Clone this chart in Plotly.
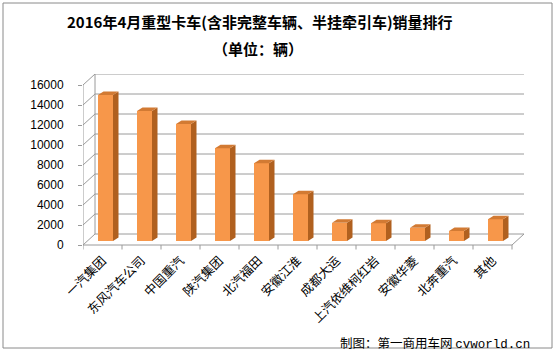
import plotly.graph_objects as go

categories = ["一汽集团", "东风汽车公司", "中国重汽", "陕汽集团", "北汽福田", "安徽江淮",
              "成都大运", "上汽依维柯红岩", "安徽华菱", "北奔重汽", "其他"]
sales = [14600, 13000, 11700, 9270, 7770, 4670, 1830, 1770, 1330, 1000, 2170]
y_ticks = [0, 2000, 4000, 6000, 8000, 10000, 12000, 14000, 16000]

W, H = 559, 357
L, T = 83, 74
CAT_PX = 39.0
DEPTH_X = 12 / CAT_PX   # back-wall offset in category units
DEPTH_Y = 1100          # back-wall offset in value units
x_range = [-0.5, 10.5 + DEPTH_X]
y_range = [-500, 17100]
plot_w = (x_range[1] - x_range[0]) * CAT_PX
plot_h = (y_range[1] - y_range[0]) / 100.0
R = W - L - plot_w
B = H - T - plot_h

GRID = "#9a9a9a"
FRONT = "#F7974A"
SIDE = "#B0601F"
TOP = "#D27A33"

BAR_W = 15 / CAT_PX
BAR_OFF = 3 / CAT_PX
BAR_BASE = 400
SX = 5.5 / CAT_PX
SY = 350

def px_to_paper(px, py):
    return (px - L) / plot_w, (H - B - py) / plot_h

shapes = []
# back wall gridlines + left wall slants
for v in y_ticks:
    shapes.append(dict(type="line", xref="x", yref="y", layer="below",
                       x0=-0.5 + DEPTH_X, y0=v + DEPTH_Y, x1=10.5 + DEPTH_X, y1=v + DEPTH_Y,
                       line=dict(color=GRID, width=1)))
    shapes.append(dict(type="line", xref="x", yref="y", layer="below",
                       x0=-0.5, y0=v, x1=-0.5 + DEPTH_X, y1=v + DEPTH_Y,
                       line=dict(color=GRID, width=1)))
# back wall left edge
shapes.append(dict(type="line", xref="x", yref="y", layer="below",
                   x0=-0.5 + DEPTH_X, y0=DEPTH_Y, x1=-0.5 + DEPTH_X, y1=y_ticks[-1] + DEPTH_Y,
                   line=dict(color=GRID, width=1)))
# front vertical axis line
shapes.append(dict(type="line", xref="x", yref="y", layer="below",
                   x0=-0.5, y0=0, x1=-0.5, y1=y_ticks[-1],
                   line=dict(color=GRID, width=1)))
# floor front and right edges
shapes.append(dict(type="line", xref="x", yref="y", layer="below",
                   x0=-0.5, y0=0, x1=10.5, y1=0, line=dict(color=GRID, width=1)))
shapes.append(dict(type="line", xref="x", yref="y", layer="below",
                   x0=10.5, y0=0, x1=10.5 + DEPTH_X, y1=DEPTH_Y, line=dict(color=GRID, width=1)))
# category boundary ticks
for i in range(len(categories) + 1):
    xb = i - 0.5
    shapes.append(dict(type="line", xref="x", yref="y", layer="below",
                       x0=xb, y0=0, x1=xb, y1=-450, line=dict(color=GRID, width=1)))

# 3D bar side and top faces
for i, v in enumerate(sales):
    xl = i + BAR_OFF - BAR_W / 2
    xr = i + BAR_OFF + BAR_W / 2
    yb = BAR_BASE
    yt = BAR_BASE + v
    shapes.append(dict(type="path", xref="x", yref="y", layer="above",
                       path=f"M{xr},{yb} L{xr+SX},{yb+SY} L{xr+SX},{yt+SY} L{xr},{yt} Z",
                       fillcolor=SIDE, line=dict(width=0)))
    shapes.append(dict(type="path", xref="x", yref="y", layer="above",
                       path=f"M{xl},{yt} L{xl+SX},{yt+SY} L{xr+SX},{yt+SY} L{xr},{yt} Z",
                       fillcolor=TOP, line=dict(width=0)))

# chart border
bx0, by0 = px_to_paper(3, 348)
bx1, by1 = px_to_paper(552, 3)
shapes.append(dict(type="rect", xref="paper", yref="paper", layer="below",
                   x0=bx0, y0=by0, x1=bx1, y1=by1,
                   line=dict(color="#8a8a8a", width=1), fillcolor="rgba(0,0,0,0)"))

fig = go.Figure()
fig.add_trace(go.Bar(
    x=[i + BAR_OFF for i in range(len(categories))],
    y=sales,
    base=[BAR_BASE] * len(sales),
    width=BAR_W,
    marker=dict(color=FRONT, line=dict(width=0)),
    hoverinfo="skip",
))

annotations = []
tx, ty = px_to_paper(260, 21)
annotations.append(dict(xref="paper", yref="paper", x=tx, y=ty, xanchor="center", yanchor="middle",
                        text="<b>2016年4月重型卡车(含非完整车辆、半挂牵引车)销量排行</b>",
                        showarrow=False, font=dict(size=15, color="#000", family="Noto Sans CJK SC")))
tx, ty = px_to_paper(258, 49)
annotations.append(dict(xref="paper", yref="paper", x=tx, y=ty, xanchor="center", yanchor="middle",
                        text="<b>（单位：辆）</b>",
                        showarrow=False, font=dict(size=15, color="#000", family="Noto Sans CJK SC")))
tx, ty = px_to_paper(532, 342)
annotations.append(dict(xref="paper", yref="paper", x=tx, y=ty, xanchor="right", yanchor="middle",
                        text="制图：第一商用车网 <span style='font-family:Liberation Mono'>cvworld.cn</span>",
                        showarrow=False, font=dict(size=12.5, color="#000", family="Noto Sans CJK SC")))

fig.update_layout(
    width=W, height=H,
    margin=dict(l=L, r=R, t=T, b=B, pad=0),
    paper_bgcolor="white", plot_bgcolor="white",
    showlegend=False,
    shapes=shapes,
    annotations=annotations,
    font=dict(family="Noto Sans CJK SC", color="#000"),
    xaxis=dict(range=x_range, tickvals=list(range(len(categories))), ticktext=categories,
               tickangle=-45, showgrid=False, zeroline=False, showline=False, ticks="",
               tickfont=dict(size=12.5, color="#000"), fixedrange=True),
    yaxis=dict(range=y_range, tickvals=y_ticks, ticktext=[str(v) for v in y_ticks],
               showgrid=False, zeroline=False, showline=False, ticks="outside", ticklen=4,
               tickcolor=GRID, ticklabelstandoff=12,
               tickfont=dict(size=12, color="#000", family="Liberation Sans"), fixedrange=True),
    bargap=0,
)

fig.write_html("out.html")
